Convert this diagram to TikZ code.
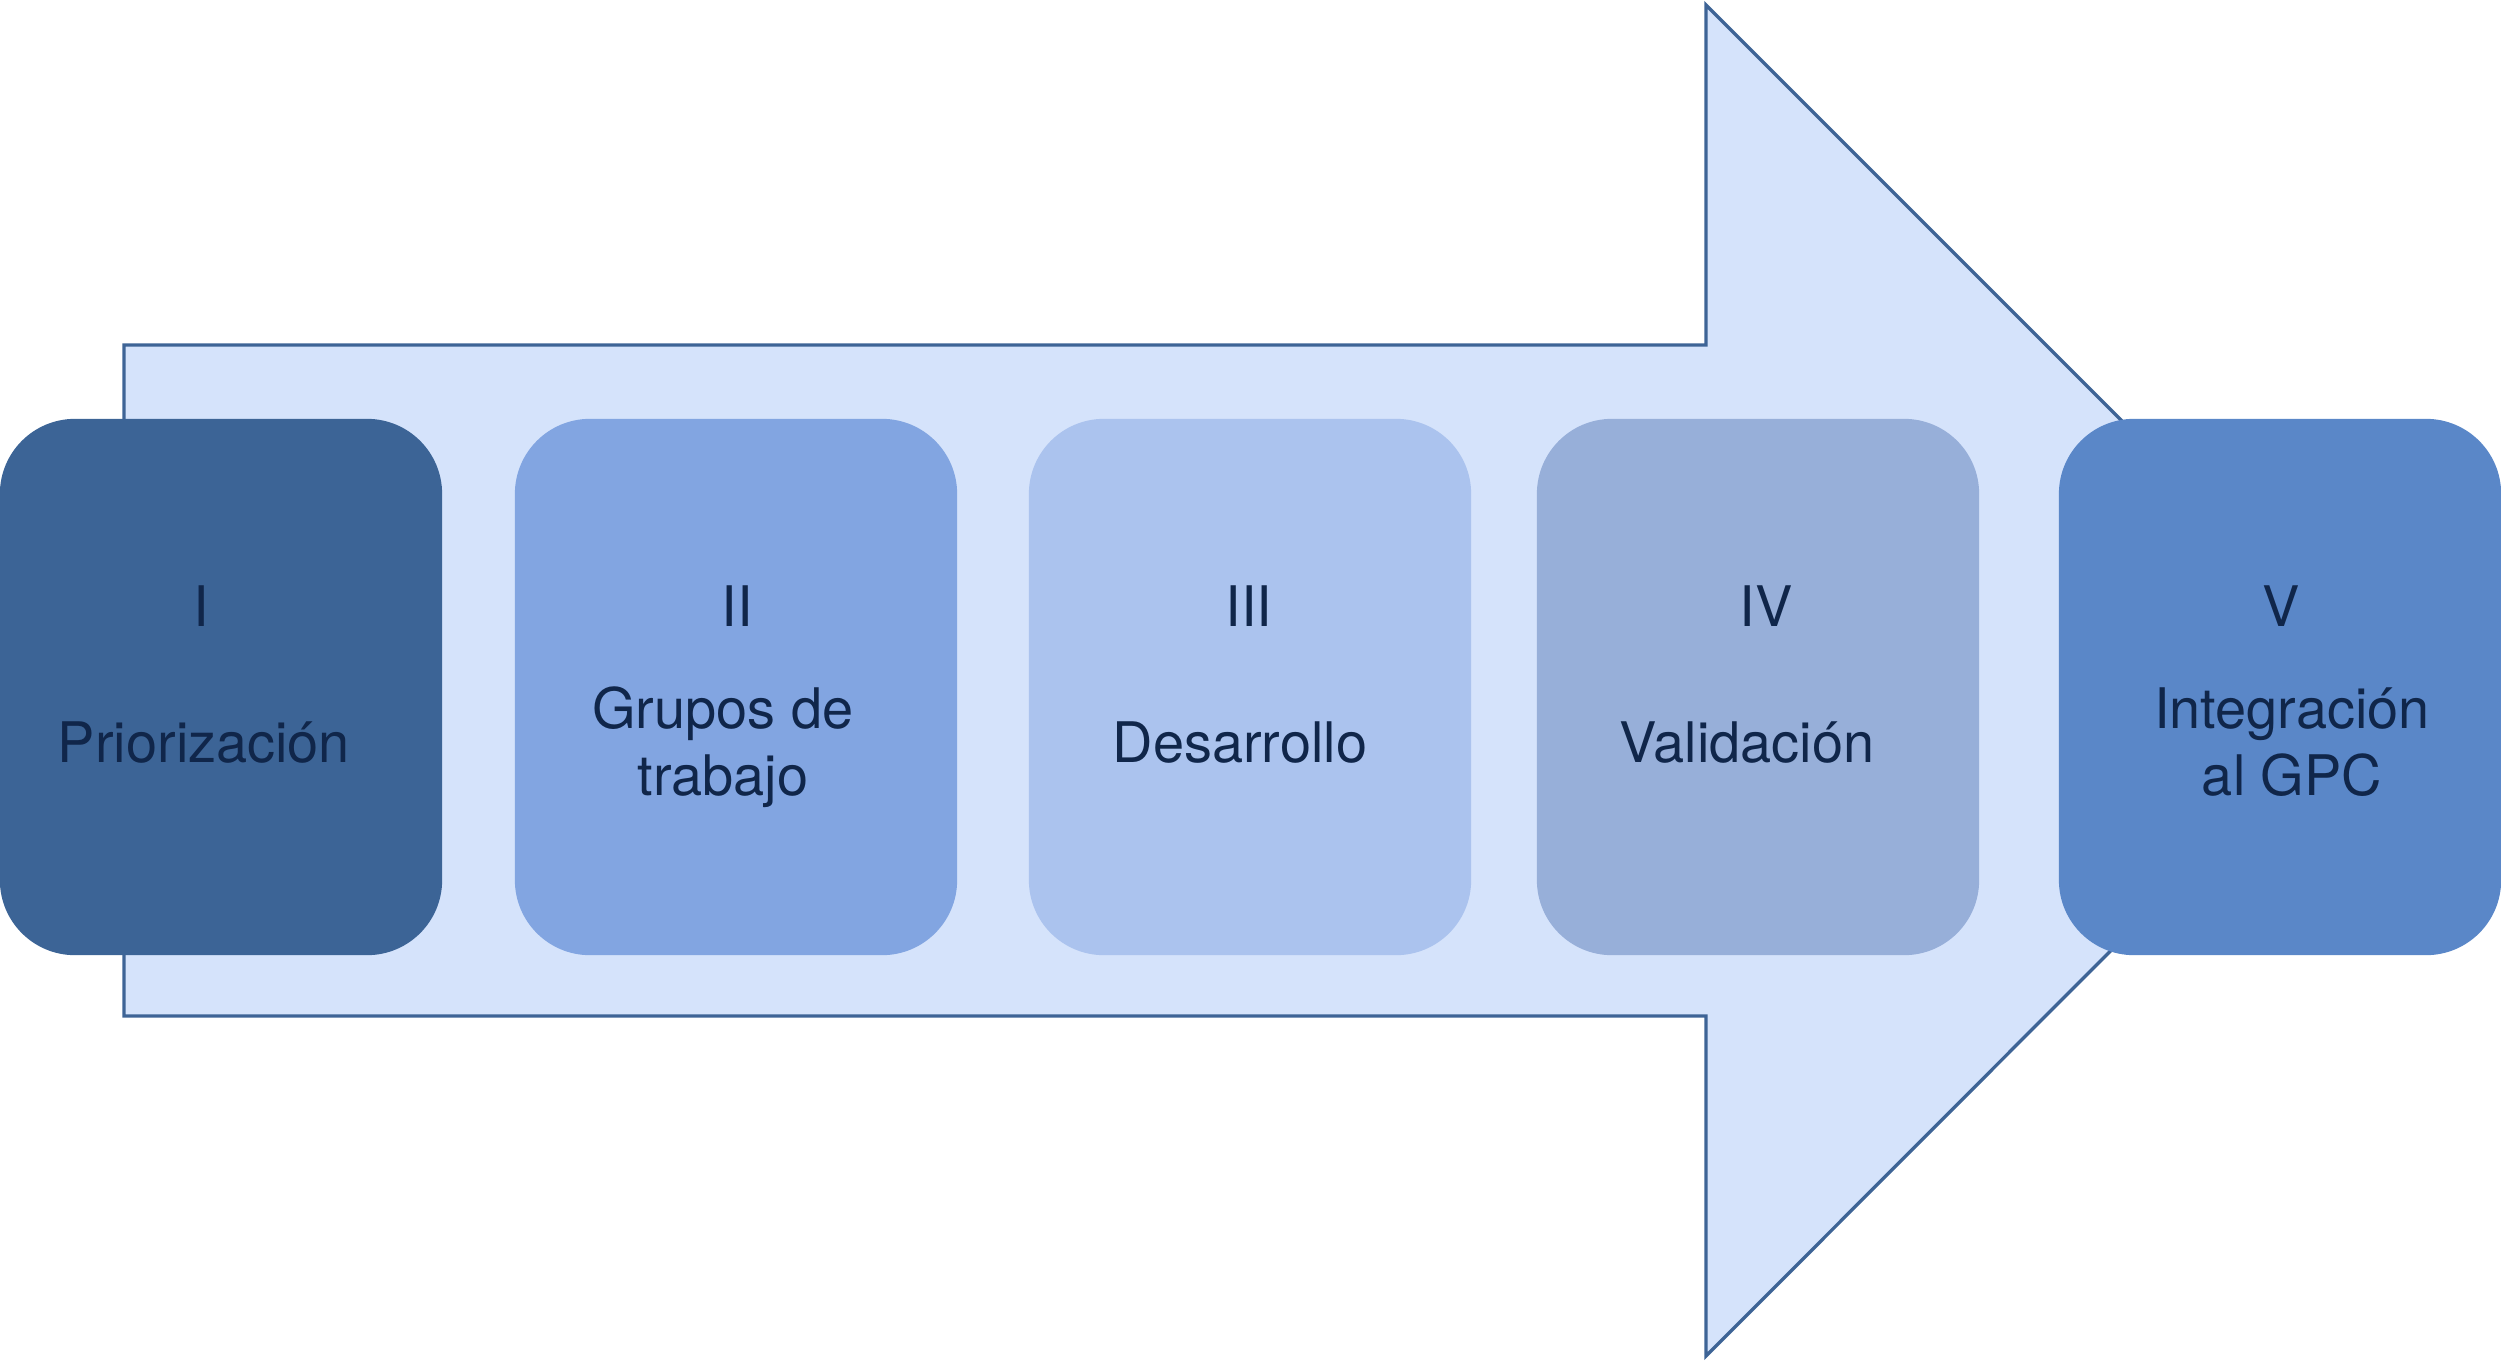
\documentclass[tikz,border=0pt]{standalone}
\usepackage{fontspec}
\setmainfont{TeX Gyre Heros}
\definecolor{arrowfill}{HTML}{D5E3FB}
\definecolor{arrowline}{HTML}{3E6496}
\definecolor{cI}{HTML}{3C6496}
\definecolor{cII}{HTML}{82A5E1}
\definecolor{cIII}{HTML}{ABC3EE}
\definecolor{cIV}{HTML}{97AFD9}
\definecolor{cV}{HTML}{5A87C8}
\definecolor{txt}{HTML}{10264A}
\begin{document}
\begin{tikzpicture}[x=0.01cm,y=-0.01cm,
  stage/.style={rounded corners=0.75cm, minimum width=4.42cm, minimum height=5.36cm, inner sep=0pt, draw=none},
  lbl/.style={anchor=base, inner sep=0pt, text=txt, font=\fontsize{15.9}{19}\selectfont}]
\useasboundingbox (0,0) rectangle (2501,1360);
\draw[arrowline, line width=0.95pt, fill=arrowfill, line join=miter]
  (124,345) -- (1706,345) -- (1706,5) -- (2381,680) -- (1706,1356) -- (1706,1016) -- (124,1016) -- cycle;
\node[stage, fill=cI]   (b1) at (221,687) {};
\node[stage, fill=cII]  (b2) at (736,687) {};
\node[stage, fill=cIII] (b3) at (1250,687) {};
\node[stage, fill=cIV]  (b4) at (1758,687) {};
\node[stage, fill=cV]   (b5) at (2280,687) {};
\node[lbl] (n1) at (201,626) {I};
\node[lbl] (t1) at (204,762) {Priorización};
\node[lbl] (n2) at (737,626) {II};
\node[lbl] (t2a) at (723,728) {Grupos de};
\node[lbl] (t2b) at (723,795) {trabajo};
\node[lbl] (n3) at (1249,626) {III};
\node[lbl] (t3) at (1240,762) {Desarrollo};
\node[lbl] (n4) at (1766,626) {IV};
\node[lbl] (t4) at (1747,762) {Validación};
\node[lbl] (n5) at (2281,626) {V};
\node[lbl] (t5a) at (2292,728) {Integración};
\node[lbl] (t5b) at (2292,795) {al GPC};
\end{tikzpicture}
\end{document}
